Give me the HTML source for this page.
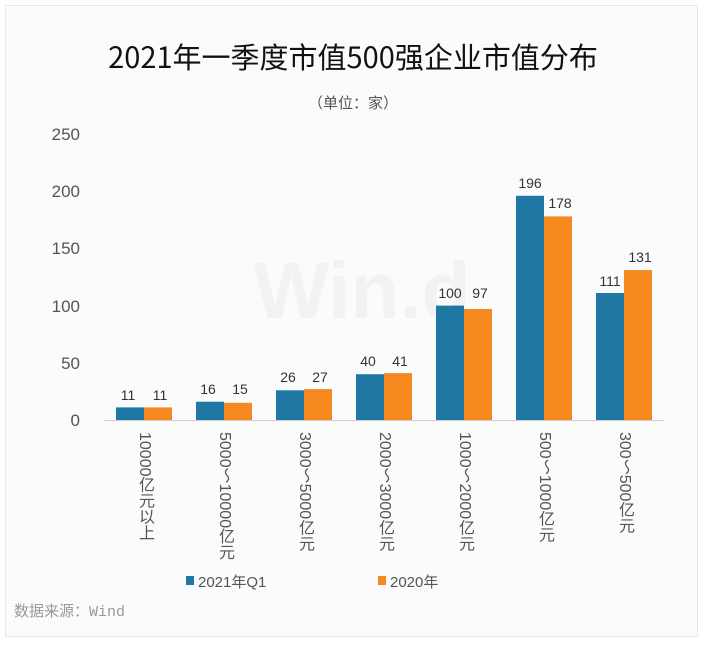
<!DOCTYPE html>
<html><head><meta charset="utf-8"><style>
body{margin:0;width:706px;height:646px;background:#fff;overflow:hidden;position:relative}
.v{position:absolute;top:432px;width:22px;writing-mode:vertical-rl;text-orientation:mixed;font:16px 'Liberation Sans','Noto Sans CJK SC',sans-serif;color:#555;line-height:22px;white-space:nowrap}
</style></head><body>
<svg width="706" height="646" xmlns="http://www.w3.org/2000/svg" font-family="'Liberation Sans','Noto Sans CJK SC',sans-serif" style="position:absolute;left:0;top:0">
<rect x="5.5" y="5.5" width="692" height="631" fill="#f9fbfd" stroke="#e6e8ea" stroke-width="1"/>
<text x="353" y="68" font-size="29" text-anchor="middle" fill="#111" font-family="'Noto Sans CJK SC',sans-serif">2021年一季度市值500强企业市值分布</text>
<text x="353" y="108" font-size="15" text-anchor="middle" fill="#555">（单位：家）</text>
<text x="362" y="318" font-size="80" font-weight="bold" text-anchor="middle" fill="#f1f2f4">Win.d</text>
<g font-size="17" fill="#555" text-anchor="end">
<text x="80" y="140">250</text><text x="80" y="197">200</text><text x="80" y="254">150</text>
<text x="80" y="312">100</text><text x="80" y="369">50</text><text x="80" y="426">0</text>
</g>
<line x1="104" y1="420.5" x2="664" y2="420.5" stroke="#ccc"/>
<g font-size="14" fill="#333" text-anchor="middle">
<rect x="116" y="407.4" width="28" height="12.6" fill="#1f77a4"/><rect x="144" y="407.4" width="28" height="12.6" fill="#f5891f"/>
<text x="128" y="400">11</text><text x="160" y="400">11</text>
<rect x="196" y="401.7" width="28" height="18.3" fill="#1f77a4"/><rect x="224" y="402.8" width="28" height="17.2" fill="#f5891f"/>
<text x="208" y="394">16</text><text x="240" y="394">15</text>
<rect x="276" y="390.3" width="28" height="29.7" fill="#1f77a4"/><rect x="304" y="389.1" width="28" height="30.9" fill="#f5891f"/>
<text x="288" y="382">26</text><text x="320" y="382">27</text>
<rect x="356" y="374.2" width="28" height="45.8" fill="#1f77a4"/><rect x="384" y="373.1" width="28" height="46.9" fill="#f5891f"/>
<text x="368" y="366">40</text><text x="400" y="366">41</text>
<rect x="436" y="305.6" width="28" height="114.4" fill="#1f77a4"/><rect x="464" y="309" width="28" height="111" fill="#f5891f"/>
<text x="450" y="298">100</text><text x="480" y="298">97</text>
<rect x="516" y="195.8" width="28" height="224.2" fill="#1f77a4"/><rect x="544" y="216.4" width="28" height="203.6" fill="#f5891f"/>
<text x="530" y="188">196</text><text x="560" y="208">178</text>
<rect x="596" y="293" width="28" height="127" fill="#1f77a4"/><rect x="624" y="270.1" width="28" height="149.9" fill="#f5891f"/>
<text x="610" y="286">111</text><text x="640" y="262">131</text>
</g>
<rect x="186" y="576" width="8" height="9" fill="#1f77a4"/>
<text x="198" y="587" font-size="15" fill="#555">2021年Q1</text>
<rect x="378" y="576" width="8" height="9" fill="#f5891f"/>
<text x="390" y="587" font-size="15" fill="#555">2020年</text>
<text x="14" y="616" font-size="15" fill="#999" font-family="'Liberation Mono','Noto Sans CJK SC',monospace">数据来源：Wind</text>
</svg>
<div class="v" style="left:133px">10000亿元以上</div>
<div class="v" style="left:213px">5000～10000亿元</div>
<div class="v" style="left:293px">3000～5000亿元</div>
<div class="v" style="left:373px">2000～3000亿元</div>
<div class="v" style="left:453px">1000～2000亿元</div>
<div class="v" style="left:533px">500～1000亿元</div>
<div class="v" style="left:613px">300～500亿元</div>
</body></html>
